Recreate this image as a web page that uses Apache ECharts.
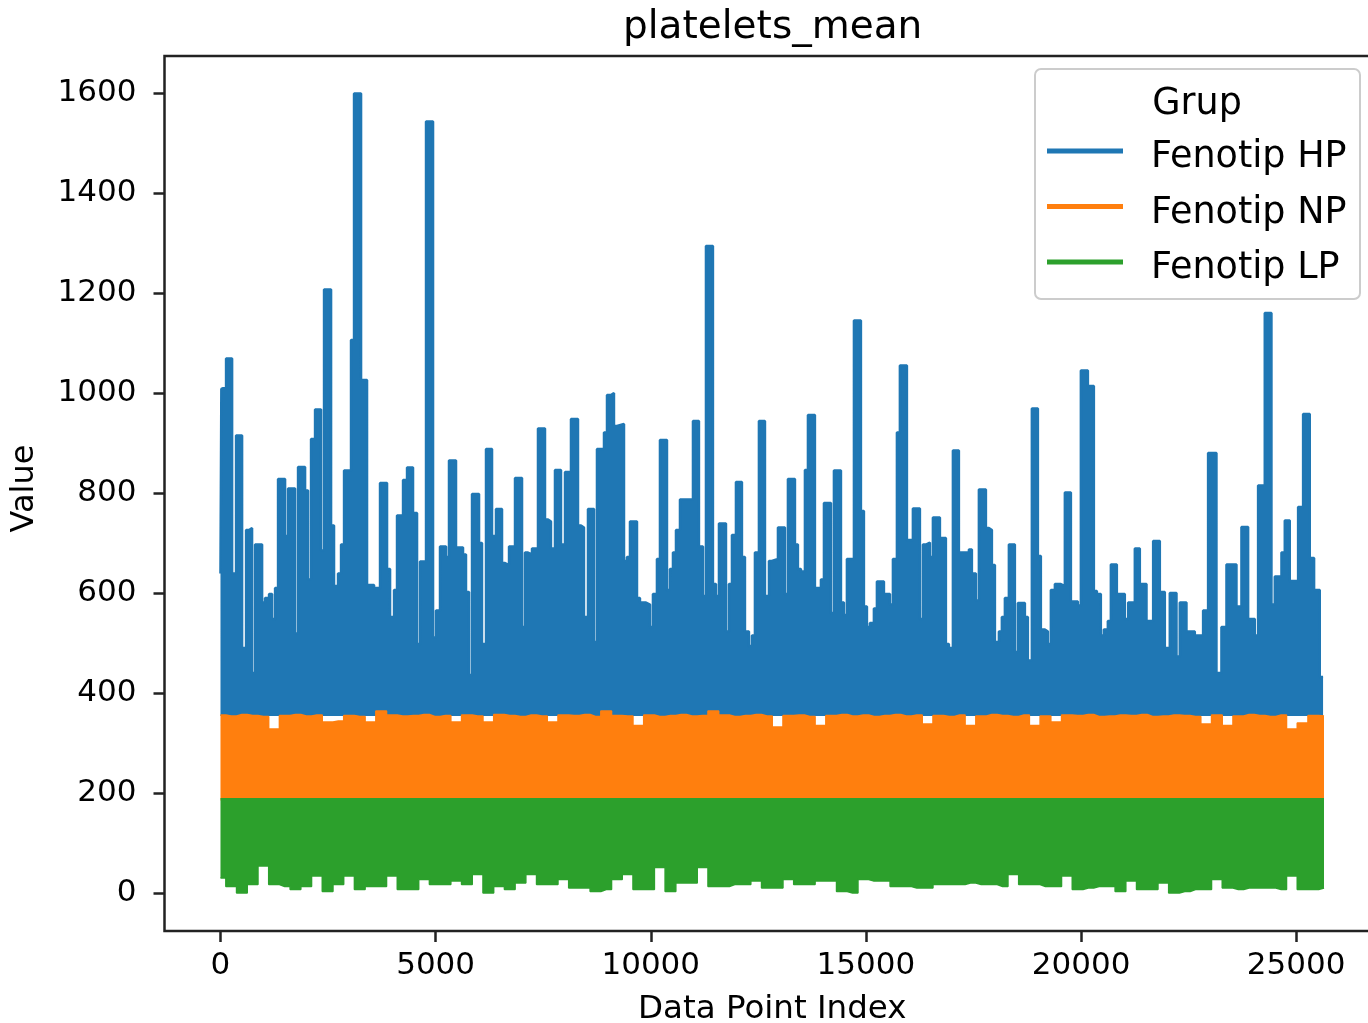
<!DOCTYPE html>
<html>
<head>
<meta charset="utf-8">
<script src="https://cdn.jsdelivr.net/npm/echarts@6/dist/echarts.min.js"></script>
<style>
  html, body { margin: 0; padding: 0; background: #fff; }
  #chart { width: 1368px; height: 1023px; }
</style>
</head>
<body>
<div id="chart"></div>
<script>
// platelets_mean, three groups plotted against data point index
const seriesNames = ['Fenotip HP', 'Fenotip NP', 'Fenotip LP'];
const seriesColors = ['#1f77b4', '#ff7f0e', '#2ca02c'];
const xTicks = [0, 5000, 10000, 15000, 20000, 25000];
const yTicks = [0, 200, 400, 600, 800, 1000, 1200, 1400, 1600];

// HP: upper envelope, read column by column (index where a column starts, top value)
const hpIdx = [
  0, 20, 60, 130, 270, 362, 502, 595, 665, 734, 804, 967, 1036, 1129, 1199, 1269, 1338, 1501, 1571, 1733,
  1803, 1966, 2035, 2105, 2198, 2337, 2407, 2570, 2639, 2732, 2802, 2872, 3034, 3104, 3267, 3406, 3569, 3708, 3871, 3941,
  4034, 4103, 4243, 4336, 4475, 4568, 4638, 4777, 4940,
  5009, 5102, 5242, 5311, 5474, 5637, 5706, 5776, 5846, 6009, 6078, 6171, 6311, 6403, 6543, 6613, 6706, 6845, 7008, 7077,
  7147, 7240, 7379, 7542, 7612, 7681, 7774, 7914, 8007, 8146, 8309, 8378, 8448, 8541, 8681, 8750, 8913, 8983, 9076, 9145,
  9215, 9378, 9447, 9517, 9680, 9749, 9889, 9982, 10051, 10144, 10214,
  10377, 10446, 10516, 10586, 10679, 10981, 11120, 11213, 11283, 11445, 11515, 11585, 11748, 11817, 11887, 11980, 12119, 12189, 12282, 12352,
  12421, 12514, 12654, 12747, 12816, 12956, 13118, 13188, 13351, 13420, 13490, 13583, 13653, 13815, 13955, 14025, 14187, 14257, 14420, 14489,
  14559, 14722, 14884, 14954, 15024, 15093, 15186, 15256, 15419, 15558,
  15628, 15721, 15790, 15953, 16092, 16255, 16325, 16394, 16487, 16557, 16720, 16859, 16929, 17022, 17161, 17394, 17463, 17556, 17626, 17789,
  17858, 17928, 17998, 18091, 18160, 18230, 18323, 18462, 18532, 18695, 18764, 18857, 18997, 19066, 19159, 19229, 19299, 19392, 19531, 19624,
  19764, 19926, 19996, 20159, 20298, 20368, 20460, 20530, 20623, 20693, 20832,
  21017, 21095, 21250, 21366, 21521, 21676, 21831, 21947, 22063, 22218, 22295, 22450, 22644, 22837, 22953, 23147, 23263, 23380, 23612, 23728,
  23883, 24038, 24115, 24270, 24425, 24503, 24658, 24735, 24851, 25045, 25161, 25316, 25416, 25548, 25625
];
const hpVal = [
  639, 1008, 1012, 1069, 639, 915, 490, 726, 730, 440, 697, 581, 590, 598, 548, 610, 828, 714, 809, 519,
  852, 805, 627, 908, 967, 685, 1207, 735, 614, 639, 697, 845, 1106, 1599, 1026, 616, 610, 820, 648, 552,
  606, 755, 826, 851, 760, 498, 663, 1543, 511,
  565, 693, 672, 865, 691, 677, 602, 436, 798, 700, 498, 888, 714, 768, 660, 656, 693, 830, 532, 681,
  677, 689, 929, 747, 743, 689, 846, 697, 842, 948, 735, 731, 552, 768, 502, 888, 921, 996, 1000, 934,
  938, 664, 672, 743, 590, 581, 577, 532, 598, 668, 906,
  606, 648, 681, 726, 787, 944, 693, 594, 1294, 618, 594, 739, 523, 618, 716, 822, 672, 523, 494, 515,
  681, 944, 594, 664, 668, 731, 598, 828, 697, 648, 643, 846, 956, 610, 627, 780, 560, 845, 581, 556,
  668, 1145, 764, 573, 532, 540, 569, 623, 598, 577,
  668, 921, 1055, 706, 769, 548, 697, 701, 672, 751, 710, 498, 490, 885, 681, 687, 639, 585, 807, 730,
  726, 656, 502, 523, 552, 590, 697, 482, 580, 552, 465, 969, 674, 527, 523, 498, 606, 618, 614, 801,
  583, 575, 1045, 1014, 604, 598, 515, 527, 544, 657, 598,
  548, 581, 689, 618, 544, 704, 602, 490, 600, 473, 581, 523, 515, 565, 880, 440, 532, 657, 573, 732,
  548, 515, 815, 1160, 577, 633, 681, 745, 624, 772, 958, 670, 606, 432, 432
];
const hpBase = 354;

// NP and LP: band edges read every 249 points
const bandStep = 249;
const npTop = [
  356, 354, 357, 355, 353, 328, 355, 357, 354, 356,
  342, 344, 355, 353, 342, 364, 356, 354, 355, 357,
  353, 355, 342, 356, 354, 342, 357, 355, 353, 356,
  354, 342, 356, 355, 357, 353, 364, 355, 354, 335,
  356, 353, 355, 357, 354, 355, 364, 356, 353, 355,
  357, 354, 332, 355, 356, 353, 335, 355, 357, 354,
  356, 353, 355, 357, 354, 356, 338, 355, 353, 356,
  335, 354, 357, 355, 353, 356, 335, 354, 342, 356,
  355, 357, 353, 354, 356, 355, 357, 353, 354, 356,
  355, 353, 338, 356, 335, 354, 357, 355, 353, 356,
  328, 340, 355, 354
];
const npBase = 185;
const lpLow = [
  30, 13, 0, 17, 54, 17, 13, 7, 13, 34,
  3, 17, 34, 7, 13, 13, 34, 7, 7, 27,
  17, 17, 24, 17, 37, 0, 13, 7, 20, 37,
  17, 17, 27, 10, 10, 3, 7, 27, 37, 7,
  7, 51, 3, 20, 20, 51, 13, 13, 17, 17,
  24, 10, 10, 27, 17, 17, 24, 24, 3, 0,
  27, 24, 24, 13, 13, 10, 10, 17, 17, 17,
  20, 17, 17, 13, 37, 17, 17, 13, 13, 34,
  7, 10, 13, 13, 3, 24, 7, 7, 20, 0,
  3, 7, 7, 27, 10, 7, 10, 10, 10, 7,
  34, 7, 7, 10
];
const lpTop = 190;

const FONT = 'DejaVu Sans';
const chart = echarts.init(document.getElementById('chart'), null, { renderer: 'canvas' });

const lineSeries = (name, color, data, origin, step, width) => ({
  name,
  type: 'line',
  data,
  step,
  symbol: 'none',
  color,
  lineStyle: { width, color },
  areaStyle: { origin, opacity: 1, color },
  emphasis: { disabled: true },
});

const plainLabel = v => String(v);

const option = {
  animation: false,
  backgroundColor: '#fff',
  textStyle: { fontFamily: FONT },
  title: {
    text: 'platelets_mean',
    left: 623,
    top: 8,
    padding: 0,
    textStyle: { fontFamily: FONT, fontSize: 39, fontWeight: 'normal', color: '#000' },
  },
  grid: {
    left: 164.5,
    top: 56,
    width: 1215.5,
    height: 875,
    outerBoundsMode: 'none',
    containLabel: false,
    show: true,
    borderColor: '#222',
    borderWidth: 2.5,
    backgroundColor: 'transparent',
  },
  xAxis: {
    type: 'value',
    min: -1301,
    max: 26948,
    name: 'Data Point Index',
    nameLocation: 'middle',
    nameGap: 62,
    nameTextStyle: { fontFamily: FONT, fontSize: 32.5, color: '#000' },
    splitLine: { show: false },
    axisLine: { show: false, onZero: false },
    axisTick: { show: true, customValues: xTicks, length: 11, lineStyle: { color: '#222', width: 2.5 } },
    axisLabel: { customValues: xTicks, formatter: plainLabel, margin: 19, fontFamily: FONT, fontSize: 31, color: '#000' },
  },
  yAxis: {
    type: 'value',
    min: -76,
    max: 1674,
    name: 'Value',
    nameLocation: 'middle',
    nameGap: 124,
    nameRotate: 90,
    nameTextStyle: { fontFamily: FONT, fontSize: 32, color: '#000', padding: [0, 0, 0, 10] },
    splitLine: { show: false },
    axisLine: { show: false, onZero: false },
    axisTick: { show: true, customValues: yTicks, length: 11, lineStyle: { color: '#222', width: 2.5 } },
    axisLabel: { customValues: yTicks, formatter: plainLabel, margin: 28, fontFamily: FONT, fontSize: 31, color: '#000' },
  },
  legend: {
    data: seriesNames,
    orient: 'vertical',
    left: 1047,
    top: 126.5,
    padding: 0,
    itemGap: 5.5,
    itemWidth: 76,
    itemHeight: 5,
    icon: 'rect',
    selectedMode: false,
    z: 10,
    formatter: name => '{gap|}\n{t|' + name + '}',
    textStyle: {
      fontFamily: FONT,
      color: '#000',
      rich: {
        gap: { height: 14, lineHeight: 14, fontSize: 10 },
        t: { fontFamily: FONT, fontSize: 36.5, lineHeight: 35, color: '#000', padding: [0, 0, 0, 23] },
      },
    },
  },
  graphic: [
    {
      type: 'rect',
      z: 5,
      shape: { x: 1035, y: 69, width: 325, height: 230, r: 6 },
      style: { fill: 'rgba(255,255,255,0.8)', stroke: '#cccccc', lineWidth: 2 },
    },
    {
      type: 'text',
      z: 6,
      x: 1197,
      y: 105,
      style: {
        text: 'Grup',
        fontFamily: FONT,
        fontSize: 36.5,
        fill: '#000',
        textAlign: 'center',
        textVerticalAlign: 'middle',
      },
    },
  ],
  series: [
    lineSeries(seriesNames[0], seriesColors[0], hpIdx.map((x, i) => [x, hpVal[i]]), hpBase, 'end', 2.5),
    lineSeries(seriesNames[1], seriesColors[1], npTop.map((v, k) => [k * bandStep, v]), npBase, 'middle', 1.5),
    lineSeries(seriesNames[2], seriesColors[2], lpLow.map((v, k) => [k * bandStep, v]), lpTop, 'middle', 1.5),
  ],
};

chart.setOption(option);
</script>
</body>
</html>
